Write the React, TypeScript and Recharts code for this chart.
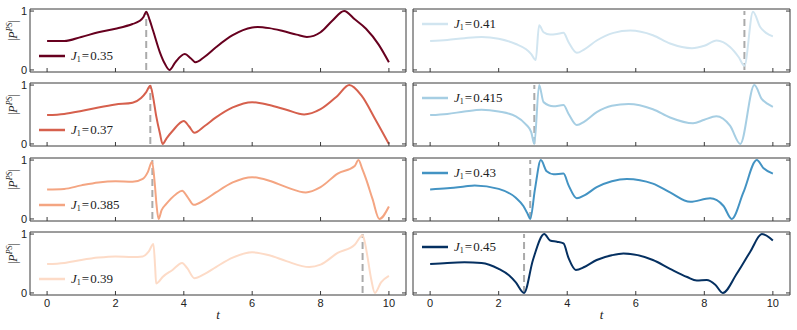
import React from 'react';
import { LineChart, Line, XAxis, YAxis, ReferenceLine } from 'recharts';

// couplings shown in the 8 panels (left column top->bottom, then right column)
const couplings = ['0.35', '0.37', '0.385', '0.39', '0.41', '0.415', '0.43', '0.45'];

// time where the grey dashed marker sits in each panel
const markerTimes = [2.9, 3.02, 3.08, 9.23, 9.17, 3.04, 2.92, 2.74];

const t035 = [0, 0.5, 1, 1.5, 2, 2.5, 2.7, 2.82, 2.9, 3.0, 3.1, 3.3, 3.45, 3.58, 3.75, 4.03, 4.2, 4.34, 4.6, 4.94, 5.43, 6.0, 6.16, 6.5, 6.9, 7.3, 7.6, 8.0, 8.35, 8.69, 9.0, 9.33, 9.7, 10];
const p035 = [0.49, 0.49, 0.56, 0.64, 0.7, 0.78, 0.83, 0.9, 0.99, 0.85, 0.67, 0.3, 0.1, 0.0, 0.13, 0.27, 0.2, 0.13, 0.22, 0.385, 0.59, 0.72, 0.73, 0.71, 0.66, 0.6, 0.56, 0.64, 0.84, 1.0, 0.86, 0.7, 0.43, 0.13];

const t037 = [0, 0.5, 1, 1.5, 2, 2.5, 2.75, 2.9, 3.02, 3.1, 3.19, 3.3, 3.38, 3.5, 3.67, 4.0, 4.15, 4.31, 4.6, 4.94, 5.43, 6.0, 6.5, 7.0, 7.52, 8.0, 8.5, 8.84, 9.2, 9.6, 10];
const p037 = [0.49, 0.51, 0.56, 0.62, 0.67, 0.7, 0.78, 0.88, 0.99, 0.8, 0.48, 0.18, 0.0, 0.1, 0.22, 0.39, 0.3, 0.19, 0.3, 0.45, 0.62, 0.71, 0.66, 0.58, 0.5, 0.59, 0.82, 1.0, 0.82, 0.42, 0.0];

const t0385 = [0, 0.5, 1, 1.5, 2, 2.5, 2.8, 2.95, 3.07, 3.15, 3.2, 3.26, 3.35, 3.48, 3.77, 3.95, 4.1, 4.29, 4.6, 4.94, 5.43, 6.0, 6.5, 7.0, 7.57, 8.0, 8.5, 9.0, 9.11, 9.22, 9.33, 9.52, 9.72, 10];
const p0385 = [0.5, 0.51, 0.57, 0.62, 0.64, 0.63, 0.68, 0.8, 0.97, 0.6, 0.25, 0.0, 0.15, 0.25, 0.42, 0.48, 0.38, 0.24, 0.32, 0.45, 0.62, 0.71, 0.65, 0.54, 0.45, 0.54, 0.77, 0.9, 1.0, 0.85, 0.68, 0.34, 0.0, 0.21];

const t039 = [0, 0.5, 1, 1.5, 2, 2.5, 2.8, 2.97, 3.11, 3.16, 3.19, 3.28, 3.38, 3.67, 3.95, 4.1, 4.31, 4.6, 4.94, 5.43, 6.0, 6.5, 7.0, 7.67, 8.0, 8.5, 9.0, 9.23, 9.3, 9.38, 9.48, 9.59, 9.77, 10];
const p039 = [0.49, 0.51, 0.56, 0.6, 0.62, 0.61, 0.62, 0.7, 0.83, 0.45, 0.16, 0.2, 0.27, 0.39, 0.51, 0.42, 0.25, 0.32, 0.44, 0.6, 0.69, 0.64, 0.54, 0.44, 0.48, 0.68, 0.82, 0.98, 0.85, 0.59, 0.24, 0.0, 0.18, 0.29];

const t041 = [0, 0.5, 1, 1.5, 2, 2.5, 2.8, 2.95, 3.08, 3.18, 3.31, 3.5, 3.7, 3.89, 4.04, 4.28, 4.5, 4.86, 5.35, 5.84, 6.5, 7.0, 7.64, 8.0, 8.36, 8.75, 9.0, 9.17, 9.42, 9.63, 9.8, 10];
const p041 = [0.49, 0.51, 0.54, 0.56, 0.53, 0.44, 0.35, 0.27, 0.17, 0.76, 0.64, 0.6, 0.61, 0.63, 0.47, 0.29, 0.35, 0.5, 0.63, 0.67, 0.59, 0.45, 0.37, 0.41, 0.5, 0.39, 0.22, 0.07, 0.99, 0.73, 0.63, 0.57];

const t0415 = [0, 0.5, 1, 1.5, 2, 2.5, 2.8, 2.95, 3.04, 3.18, 3.31, 3.6, 3.89, 4.04, 4.28, 4.5, 4.86, 5.3, 5.79, 6.5, 7.0, 7.67, 8.0, 8.35, 8.75, 9.05, 9.46, 9.68, 9.85, 10];
const p0415 = [0.49, 0.51, 0.55, 0.58, 0.55, 0.47, 0.33, 0.2, 0.0, 1.0, 0.71, 0.64, 0.66, 0.51, 0.32, 0.38, 0.54, 0.65, 0.68, 0.59, 0.45, 0.35, 0.41, 0.47, 0.31, 0.0, 1.0, 0.76, 0.68, 0.63];

const t043 = [0, 0.5, 1, 1.3, 2, 2.5, 2.72, 2.85, 2.92, 3.06, 3.23, 3.4, 3.6, 3.89, 4.04, 4.28, 4.5, 4.86, 5.3, 5.74, 6.5, 7.0, 7.59, 8.17, 8.56, 8.8, 9.14, 9.53, 9.73, 10];
const p043 = [0.5, 0.52, 0.55, 0.57, 0.51, 0.36, 0.22, 0.08, 0.0, 0.51, 1.0, 0.81, 0.76, 0.77, 0.57, 0.35, 0.4, 0.54, 0.64, 0.68, 0.6, 0.45, 0.29, 0.35, 0.22, 0.0, 0.45, 1.0, 0.86, 0.77];

const t045 = [0, 0.5, 1, 1.5, 2, 2.3, 2.5, 2.74, 3.0, 3.33, 3.5, 3.7, 3.89, 4.04, 4.25, 4.5, 4.86, 5.3, 5.64, 6.5, 7.0, 7.5, 7.78, 8.07, 8.32, 8.54, 8.95, 9.34, 9.68, 10];
const p045 = [0.49, 0.51, 0.52, 0.51, 0.41, 0.3, 0.18, 0.0, 0.56, 1.0, 0.89, 0.87, 0.84, 0.59, 0.39, 0.44, 0.56, 0.64, 0.67, 0.56, 0.41, 0.27, 0.21, 0.22, 0.14, 0.0, 0.33, 0.7, 1.0, 0.89];

const times = [t035, t037, t0385, t039, t041, t0415, t043, t045];
const values = [p035, p037, p0385, p039, p041, p0415, p043, p045];

const xTicks = [0, 2, 4, 6, 8, 10];
const yTicks = [0, 1];

const colors = ['#67001f', '#d6604d', '#f4a582', '#fddbc7', '#d1e5f0', '#a6cee3', '#4393c3', '#053061'];

const FRAME = '#3a3a3a';
const SANS = '"Liberation Sans", Arial, sans-serif';
const SERIF = '"Liberation Serif", "Times New Roman", serif';

const COL_X = [
  { left: 30, right: 406 },
  { left: 413, right: 790 },
];
const ROW_TOPS = [9, 83, 158, 232];
const ROW_H = 63;

const bottomTick = (labels: boolean) => (props: any) => {
  const { x, y, payload } = props;
  return (
    <g>
      <line x1={x} y1={y} x2={x} y2={y - 4} stroke={FRAME} />
      {labels && (
        <text x={x} y={y + 12} textAnchor="middle" fontFamily={SANS} fontSize={11} fill="#222">
          {payload.value}
        </text>
      )}
    </g>
  );
};

const topTick = (props: any) => {
  const { x, y } = props;
  return <line x1={x} y1={y} x2={x} y2={y + 4} stroke={FRAME} />;
};

const leftTick = (labels: boolean) => (props: any) => {
  const { x, y, payload } = props;
  return (
    <g>
      <line x1={x} y1={y} x2={x + 4} y2={y} stroke={FRAME} />
      {labels && (
        <text x={x - 3} y={y + 4} textAnchor="end" fontFamily={SANS} fontSize={11} fill="#222">
          {payload.value}
        </text>
      )}
    </g>
  );
};

const rightTick = (props: any) => {
  const { x, y } = props;
  return <line x1={x} y1={y} x2={x - 4} y2={y} stroke={FRAME} />;
};

const yTitle = (props: any) => {
  const { viewBox } = props;
  const cx = viewBox.x + viewBox.width - 17;
  const cy = viewBox.y + viewBox.height / 2 - 10;
  return (
    <text
      x={cx}
      y={cy}
      transform={`rotate(-90 ${cx} ${cy})`}
      textAnchor="middle"
      dominantBaseline="central"
      fontFamily={SERIF}
      fontSize={12}
      fill="#222"
    >
      |<tspan fontStyle="italic">P</tspan>
      <tspan fontStyle="italic" fontSize={8} dy={-4}>PS</tspan>
      <tspan dy={4}>|</tspan>
    </text>
  );
};

const xTitle = (props: any) => {
  const { viewBox } = props;
  return (
    <text
      x={viewBox.x + viewBox.width / 2}
      y={viewBox.y + 24}
      textAnchor="middle"
      fontFamily={SERIF}
      fontStyle="italic"
      fontSize={13}
      fill="#222"
    >
      t
    </text>
  );
};

function Panel({ idx }: { idx: number }) {
  const col = idx < 4 ? 0 : 1;
  const row = idx % 4;
  const isBottom = row === 3;
  const { left, right } = COL_X[col];
  const top = ROW_TOPS[row];
  // total offsets from the chart edge to the frame (axis size of 1 included)
  const ml = col === 0 ? 30 : 4;
  const mr = 4;
  const mt = 4;
  const mb = isBottom ? 30 : 4;
  const data = times[idx].map((t, i) => ({ t, v: values[idx][i] }));
  const mark = markerTimes[idx];

  return (
    <div style={{ position: 'absolute', left: left - ml, top: top - mt }}>
      <LineChart
        width={right - left + ml + mr}
        height={ROW_H + mt + mb}
        margin={{ top: mt - 1, right: mr - 1, bottom: mb - 1, left: ml - 1 }}
      >
        <XAxis
          type="number"
          dataKey="t"
          domain={[-0.5, 10.5]}
          ticks={xTicks}
          interval={0}
          allowDataOverflow
          height={1}
          tickSize={0}
          tickMargin={0}
          tickLine={false}
          axisLine={{ stroke: FRAME }}
          tick={bottomTick(isBottom)}
          label={isBottom ? xTitle : undefined}
        />
        <XAxis
          xAxisId="top"
          orientation="top"
          type="number"
          domain={[-0.5, 10.5]}
          ticks={xTicks}
          interval={0}
          allowDataOverflow
          height={1}
          tickSize={0}
          tickMargin={0}
          tickLine={false}
          axisLine={{ stroke: FRAME }}
          tick={topTick}
        />
        <YAxis
          type="number"
          domain={[-0.035, 1.035]}
          ticks={yTicks}
          interval={0}
          allowDataOverflow
          width={1}
          tickSize={0}
          tickMargin={0}
          tickLine={false}
          axisLine={{ stroke: FRAME }}
          tick={leftTick(col === 0)}
          label={col === 0 ? yTitle : undefined}
        />
        <YAxis
          yAxisId="right"
          orientation="right"
          type="number"
          domain={[-0.035, 1.035]}
          ticks={yTicks}
          interval={0}
          allowDataOverflow
          width={1}
          tickSize={0}
          tickMargin={0}
          tickLine={false}
          axisLine={{ stroke: FRAME }}
          tick={rightTick}
        />
        <ReferenceLine
          segment={[
            { x: mark, y: 0 },
            { x: mark, y: 1 },
          ]}
          stroke="#aaaaaa"
          strokeWidth={2}
          strokeDasharray="7 4"
        />
        <Line
          data={data}
          dataKey="v"
          type="monotone"
          stroke={colors[idx]}
          strokeWidth={2}
          dot={false}
          isAnimationActive={false}
        />
      </LineChart>
      <div
        style={{
          position: 'absolute',
          left: ml + 9,
          top: col === 0 ? mt + ROW_H - 16 - 8 : mt + 15 - 8,
          height: 16,
          display: 'flex',
          alignItems: 'center',
          fontFamily: SERIF,
          fontSize: 13,
          color: '#222',
          whiteSpace: 'nowrap',
          pointerEvents: 'none',
        }}
      >
        <svg width={26} height={4} style={{ marginRight: 6 }}>
          <line x1={0} y1={2} x2={26} y2={2} stroke={colors[idx]} strokeWidth={2.5} />
        </svg>
        <span>
          <i>J</i>
          <sub style={{ fontSize: 8, verticalAlign: '-2px' }}>1</sub>
          <span style={{ margin: '0 1px' }}>=</span>0{couplings[idx].slice(1)}
        </span>
      </div>
    </div>
  );
}

export default function App() {
  return (
    <div style={{ position: 'absolute', left: 0, top: 0, width: 797, height: 330, background: '#fff' }}>
      {couplings.map((_, i) => (
        <Panel key={i} idx={i} />
      ))}
    </div>
  );
}
